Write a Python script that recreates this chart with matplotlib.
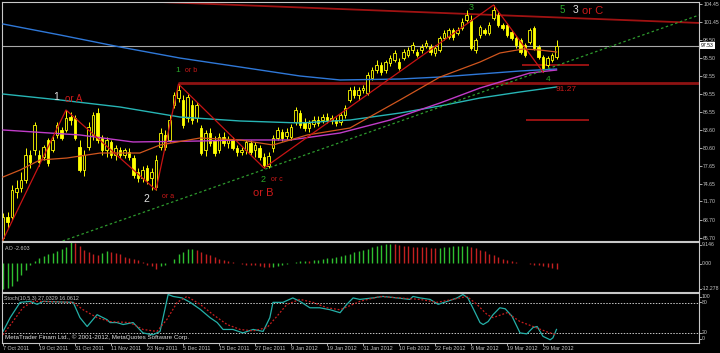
import matplotlib
matplotlib.use("Agg")
import matplotlib.pyplot as plt

# daily candles, 7 Oct 2011 .. 3 Apr 2012
opens = [65.65, 69.13, 69.13, 73.28, 73.94, 75.27, 79.41, 80.24, 79.41, 79.08,
         81.90, 80.24, 82.73, 83.56, 83.56, 85.71, 85.55, 80.74, 76.92, 80.74,
         82.73, 86.37, 82.23, 80.24, 81.57, 79.41, 80.24, 79.41, 79.91, 78.91,
         76.59, 75.60, 77.26, 75.60, 74.11, 80.74, 82.73, 81.90, 87.70, 88.86,
         88.53, 85.55, 87.70, 85.55, 83.89, 80.24, 83.06, 81.90, 80.24, 82.40,
         81.40, 81.90, 80.57, 79.91, 80.24, 81.40, 80.24, 80.57, 79.08, 77.59,
         80.57, 82.23, 83.22, 82.56, 82.40, 84.88, 86.37, 84.88, 83.89, 84.55,
         85.21, 85.21, 85.71, 85.21, 85.21, 84.88, 86.04, 88.53, 90.19, 89.36,
         90.19, 89.69, 92.18, 93.50, 94.33, 93.50, 94.66, 95.16, 94.83, 95.49,
         95.99, 96.82, 96.49, 96.82, 97.48, 97.32, 96.32, 96.82, 98.81, 98.98,
         100.14, 99.64, 100.47, 101.79, 101.79, 96.82, 99.31, 100.14, 99.64, 102.13,
         102.62, 100.96, 100.96, 99.80, 98.81, 98.48, 97.65, 98.15, 100.47, 97.32,
         95.66, 94.33, 95.16, 95.66]
highs = [69.79, 69.96, 74.44, 75.27, 76.59, 80.57, 80.24, 84.88, 80.24, 81.07,
         82.23, 82.56, 84.88, 84.05, 86.87, 86.54, 86.04, 81.90, 80.24, 84.88,
         86.54, 87.20, 82.73, 82.40, 81.90, 81.07, 80.74, 80.57, 80.57, 79.41,
         77.26, 77.59, 77.75, 77.26, 79.41, 83.89, 83.56, 86.04, 89.86, 91.18,
         89.36, 89.52, 88.53, 88.20, 84.38, 83.56, 83.89, 82.56, 83.06, 83.22,
         82.56, 82.40, 81.07, 80.74, 81.90, 81.90, 81.57, 81.07, 79.74, 79.91,
         82.73, 84.05, 83.72, 83.89, 84.55, 87.37, 86.87, 85.55, 85.21, 85.88,
         85.88, 86.21, 86.37, 86.04, 85.71, 86.54, 87.70, 90.69, 90.85, 90.69,
         91.02, 93.17, 94.00, 95.16, 94.83, 95.16, 95.99, 96.82, 95.49, 96.99,
         97.32, 98.15, 96.99, 97.81, 98.48, 97.81, 97.65, 99.14, 100.14, 100.47,
         100.47, 100.63, 102.13, 103.45, 102.62, 98.81, 100.96, 100.47, 101.46, 104.28,
         103.12, 101.30, 101.30, 100.14, 99.14, 98.81, 97.98, 100.47, 100.80, 97.65,
         95.99, 95.83, 96.32, 98.48]
lows = [65.32, 67.31, 68.63, 72.28, 73.28, 74.77, 77.26, 79.41, 77.59, 78.58,
        77.59, 79.91, 82.23, 81.90, 83.22, 84.38, 81.90, 76.59, 75.93, 80.24,
        81.90, 81.40, 79.41, 79.08, 78.91, 78.58, 78.91, 78.91, 78.58, 75.60,
        74.93, 74.93, 74.60, 73.61, 73.61, 80.24, 80.24, 81.57, 87.20, 88.20,
        83.89, 84.88, 84.55, 84.88, 79.41, 79.25, 80.90, 79.25, 79.74, 80.90,
        80.57, 80.24, 79.25, 79.41, 79.58, 79.41, 79.08, 78.58, 77.26, 77.26,
        79.91, 81.90, 81.73, 82.06, 81.90, 84.38, 83.89, 83.39, 83.22, 84.05,
        84.22, 84.72, 84.72, 84.55, 84.22, 84.38, 85.55, 88.20, 88.86, 88.53,
        89.69, 89.36, 91.85, 93.01, 92.67, 93.01, 94.17, 94.83, 93.50, 95.16,
        95.66, 96.32, 95.66, 96.32, 97.15, 95.99, 95.83, 96.49, 98.48, 98.64,
        98.48, 99.31, 100.14, 101.46, 96.82, 96.32, 98.81, 99.31, 99.31, 101.79,
        100.63, 100.14, 98.98, 98.48, 97.15, 96.16, 95.66, 97.81, 96.82, 95.33,
        93.17, 94.00, 94.83, 95.33]
closes = [69.13, 68.30, 73.61, 73.94, 75.27, 79.41, 78.25, 84.38, 78.25, 80.74,
          78.08, 81.90, 84.38, 82.23, 85.55, 85.21, 82.23, 76.92, 79.41, 84.05,
          86.04, 81.90, 80.24, 81.90, 79.41, 80.57, 79.41, 80.24, 79.08, 76.09,
          75.60, 76.92, 75.27, 76.59, 78.58, 83.06, 80.74, 85.21, 89.36, 90.19,
          84.38, 89.03, 85.21, 87.70, 79.74, 83.06, 81.40, 79.74, 82.40, 81.40,
          81.90, 80.57, 79.91, 80.24, 81.57, 79.91, 81.07, 79.08, 77.75, 79.25,
          82.23, 83.56, 82.23, 83.22, 84.05, 86.87, 84.38, 83.89, 84.72, 85.21,
          84.72, 85.71, 85.21, 85.55, 84.72, 86.04, 87.20, 90.19, 89.36, 90.19,
          90.52, 92.67, 93.50, 94.33, 93.17, 94.83, 95.49, 96.32, 93.84, 96.49,
          96.82, 97.65, 95.99, 97.32, 97.98, 96.49, 97.15, 98.81, 99.64, 100.14,
          98.98, 100.14, 101.46, 102.62, 97.15, 98.48, 100.63, 99.64, 100.96, 103.45,
          100.96, 100.47, 99.31, 98.81, 97.65, 96.49, 95.99, 100.14, 97.15, 95.66,
          93.84, 95.49, 95.99, 97.53]

# Awesome Oscillator, one value per bar
ao = [-10.8, -10.5, -9.6, -7.4, -5.1, -2.9, -0.8, 1.0, 2.3, 3.0,
      3.8, 4.5, 5.2, 6.0, 6.8, 9.1, 8.8, 7.5, 5.7, 4.8,
      3.8, 3.6, 4.5, 5.3, 4.8, 4.5, 3.8, 2.7, 2.5, 1.7,
      1.3, 0.6, -0.5, -1.3, -2.5, -1.3, -0.5, 0.2, 1.7, 3.8,
      4.8, 6.0, 6.2, 5.8, 5.0, 4.2, 3.4, 2.6, 2.0, 1.4,
      0.9, 0.4, 0.3, -0.2, -0.5, -0.7, -0.9, -1.2, -1.5, -1.7,
      -1.5, -1.1, -0.6, -0.3, 0.2, 0.6, 1.0, 1.1, 1.0, 1.3,
      1.6, 1.8, 2.1, 2.5, 2.9, 3.3, 3.6, 4.2, 4.8, 5.3,
      5.8, 6.3, 6.8, 7.3, 7.8, 8.1, 8.3, 8.2, 7.8, 7.6,
      7.4, 7.2, 7.0, 6.9, 6.8, 6.6, 6.4, 6.6, 6.9, 7.1,
      7.3, 7.4, 7.5, 7.6, 7.2, 6.6, 5.9, 5.1, 4.2, 3.6,
      2.7, 2.0, 1.6, 1.1, 0.7, 0.3, 0.1, -0.2, -0.6, -0.9,
      -1.3, -1.7, -2.2, -2.603]

# moving averages, (bar, price) points
ma_blue = [(0, 101.13), (12.7, 99.31), (26, 97.32), (39.3, 95.49), (52.7, 94.00),
           (66, 92.51), (74.9, 91.85), (88.2, 92.01), (97.1, 92.34), (106, 92.84),
           (114.9, 93.34), (123, 93.67)]
ma_cyan = [(0, 89.52), (12.7, 88.53), (26, 87.37), (39.3, 85.71), (52.7, 85.05),
           (66, 84.72), (77.1, 85.21), (88.2, 86.37), (97.1, 87.54), (106, 88.86),
           (114.9, 89.86), (123, 90.69)]
ma_purple = [(0, 83.56), (17.1, 82.73), (28.9, 81.57), (43.8, 81.73), (52.7, 81.90),
             (63.8, 81.90), (74.9, 83.06), (86, 85.21), (97.1, 88.03), (106, 90.52),
             (117.1, 93.01), (123, 93.50)]
ma_orange = [(0, 75.76), (3.8, 76.92), (8.2, 78.58), (14.2, 78.91), (21.6, 79.74),
             (30.4, 79.74), (34.9, 81.07), (43.8, 82.23), (52.7, 81.90), (60, 81.07),
             (67.6, 82.73), (77.1, 83.89), (88.2, 88.53), (97.1, 92.34), (106, 94.83),
             (110.4, 96.32), (115.6, 96.99), (119.3, 96.82), (123, 96.49)]

# zigzag pivots: bar index and whether it is a low or a high
zz_bars = [0, 14, 34, 39, 58, 109, 120]
zz_kind = ['L', 'H', 'L', 'H', 'L', 'H', 'L']

# stochastic (10,5,3): main and signal, (bar, value)
stoch_main = [(0, 23), (1.6, 51), (3.8, 82), (6, 84), (7.6, 78), (8.9, 84), (15.6, 82),
              (17.1, 51), (18.7, 33), (20.9, 57), (23.1, 47), (23.8, 41), (25.3, 41),
              (26.7, 37), (28.9, 41), (31.1, 20), (33.3, 16), (34.9, 23), (36.7, 98),
              (37.8, 94), (39.8, 91), (41.6, 82), (43.8, 68), (46, 51), (47.6, 41),
              (48.9, 27), (51.1, 27), (53.3, 20), (55.6, 27), (57.8, 23), (59.3, 51),
              (60, 82), (62.2, 82), (64.4, 91), (66, 84), (68.2, 71), (70.4, 71),
              (72.7, 67), (74.9, 61), (76.4, 78), (77.8, 91), (79.3, 88), (82.2, 91),
              (84.4, 94), (87.6, 91), (90.4, 88), (91.1, 94), (92.7, 91), (94.9, 88),
              (96.7, 78), (98.7, 84), (100.9, 91), (102.2, 98), (103.3, 91), (104.4, 71),
              (106, 41), (106.7, 37), (107.8, 43), (108.9, 57), (110.4, 71), (111.6, 69),
              (113.1, 54), (114.9, 20), (116.4, 18), (117.8, 31), (118.7, 33), (120, 13),
              (121.6, 6), (122.2, 10), (123, 27.03)]
stoch_signal = [(0, 16), (2.2, 43), (4.4, 71), (6.7, 84), (8.9, 84), (15.6, 82),
                (17.8, 67), (20.9, 51), (23.8, 43), (28.2, 41), (31.1, 27), (34.2, 23),
                (36.4, 47), (38.7, 82), (40.9, 94), (43.8, 78), (46.7, 57), (49.8, 37),
                (52.7, 27), (55.6, 24), (58.7, 31), (60.9, 54), (63.1, 78), (66, 88),
                (68.9, 82), (72, 71), (74.9, 67), (77.8, 78), (79.3, 84), (83.8, 94),
                (88.2, 91), (92.7, 88), (96.4, 82), (100, 88), (103.1, 94), (105.3, 78),
                (107.6, 57), (108.9, 51), (112, 61), (114.9, 43), (117.8, 33),
                (120.9, 22), (123, 16.06)]

price_ticks = [104.45, 101.45, 98.50, 95.50, 92.55, 89.55, 86.55, 83.60,
               80.60, 77.65, 74.65, 71.70, 68.70, 65.70]
last_price = 97.53
level_price = 91.27
date_labels = ['7 Oct 2011', '19 Oct 2011', '31 Oct 2011', '11 Nov 2011', '23 Nov 2011',
               '5 Dec 2011', '15 Dec 2011', '27 Dec 2011', '9 Jan 2012', '19 Jan 2012',
               '31 Jan 2012', '10 Feb 2012', '22 Feb 2012', '6 Mar 2012', '19 Mar 2012',
               '29 Mar 2012']

W, H = 720, 353
BAR_PX = 4.5
FG = '#c8c8c8'
YEL = '#ffff00'
RED = '#cc1a1a'
GRN = '#2aa82a'
SMALL = 3.7

plt.rcParams['font.family'] = 'Liberation Sans'
fig = plt.figure(figsize=(7.2, 3.53), dpi=100, facecolor='black')


def panel(x0, y0, x1, y1):
    a = fig.add_axes([x0 / W, 1 - y1 / H, (x1 - x0) / W, (y1 - y0) / H])
    a.set_facecolor('black')
    for s in a.spines.values():
        s.set_color(FG)
        s.set_linewidth(0.8)
    a.set_xlim(-1 / BAR_PX, (x1 - 3) / BAR_PX)
    a.set_xticks([])
    a.set_yticks([])
    return a


ax = panel(2, 2, 699, 241)
ax.set_ylim(65.15, 104.78)
ao_ax = panel(2, 242, 699, 292)
ao_ax.set_ylim(-12.278, 9.146)
st_ax = panel(2, 293, 699, 343)
st_ax.set_ylim(-0.5, 101)

# --- price panel
n = len(closes)
xs = list(range(n))
ax.vlines(xs, lows, highs, color=YEL, lw=0.7, zorder=2)
for i in xs:
    up = closes[i] >= opens[i]
    lo, hi = min(opens[i], closes[i]), max(opens[i], closes[i])
    ax.bar(i, max(hi - lo, 0.05), bottom=lo, width=0.62,
           facecolor='black' if up else YEL, edgecolor=YEL, linewidth=0.6, zorder=2)


def draw(a, pts, **kw):
    a.plot([p[0] for p in pts], [p[1] for p in pts], **kw)


draw(ax, ma_blue, color='#2f78d8', lw=1.0, zorder=3)
draw(ax, ma_cyan, color='#27b5b5', lw=1.0, zorder=3)
draw(ax, ma_purple, color='#c03cc8', lw=1.0, zorder=3)
draw(ax, ma_orange, color='#d0561e', lw=0.9, zorder=3)

zz_y = [lows[b] if k == 'L' else highs[b] for b, k in zip(zz_bars, zz_kind)]
ax.plot(zz_bars, zz_y, color='#c81414', lw=0.9, zorder=4)

ax.axhline(last_price, color='#a8a8a8', lw=0.8, zorder=1)
ax.hlines(level_price, 38.9, 160, color='#8e1212', lw=2.0, zorder=1)
ax.plot([34.9, 160], [104.78, 101.15], color='#a01212', lw=1.3, zorder=1)
ax.hlines([94.33, 85.21], [115.3, 116.2], [130.2, 130.2], color='#b01515', lw=1.2, zorder=1)
ax.axline((52.7, 75.60), (154.7, 102.62), color='#2e9a2e', lw=0.9,
          linestyle=(0, (2, 2)), zorder=3)


# wave labels
def lab(x, y, s, c, size=7):
    ax.text(x, y, s, color=c, fontsize=size, ha='center', va='center', zorder=5)


lab(11.8, 89.03, '1', '#e0e0e0', 7.5)
lab(15.8, 88.70, 'or A', RED, 7)
lab(38.9, 93.34, '1', GRN, 6)
lab(41.8, 93.34, 'or b', RED, 5)
lab(31.8, 72.12, '2', '#e0e0e0', 7.5)
lab(36.7, 72.45, 'or a', RED, 5)
lab(57.8, 75.43, '2', GRN, 6.5)
lab(60.9, 75.27, 'or c', RED, 5)
lab(57.8, 73.11, 'or B', RED, 8)
lab(104.0, 103.95, '3', GRN, 6.5)
lab(124.2, 103.45, '5', GRN, 7)
lab(127.3, 103.45, '3', '#e0e0e0', 7.5)
lab(131.1, 103.29, 'or C', RED, 8)
lab(121.1, 92.01, '4', GRN, 6)
lab(125.1, 90.19, '91.27', RED, 6)

# right price scale
ax.yaxis.tick_right()
ax.set_yticks(price_ticks)
ax.set_yticklabels(['%.2f' % v for v in price_ticks])
ax.tick_params(axis='y', colors=FG, labelsize=SMALL, length=2, width=0.6, pad=1)
ax.annotate('%.2f' % last_price, xy=(1.0, last_price),
            xycoords=('axes fraction', 'data'), xytext=(1.6, 0),
            textcoords='offset points', va='center', ha='left', fontsize=SMALL,
            color='black', bbox=dict(boxstyle='square,pad=0.15', fc='white', ec='none'))

# --- AO panel
ao_cols = ['#2fbf2f' if i == 0 or ao[i] >= ao[i - 1] else '#c42020' for i in range(n)]
ao_ax.vlines(xs, 0, ao, colors=ao_cols, lw=1.0)
ao_ax.text(0.004, 0.93, 'AO -2.603', transform=ao_ax.transAxes, color=FG, fontsize=3.9,
           va='top', ha='left')

# --- stochastic panel
st_ax.axhline(80, color=FG, lw=0.7, linestyle=(0, (1.5, 1.5)))
st_ax.axhline(20, color=FG, lw=0.7, linestyle=(0, (1.5, 1.5)))
draw(st_ax, stoch_main, color='#25b0a8', lw=0.9)
draw(st_ax, stoch_signal, color='#c81e1e', lw=0.9, linestyle=(0, (1.5, 1.5)))
st_ax.text(0.003, 0.94, 'Stoch(10,5,3) 27.0329 16.0612', transform=st_ax.transAxes,
           color=FG, fontsize=3.9, va='top', ha='left')
st_ax.text(0.004, 0.05, 'MetaTrader Finam Ltd., \u00a9 2001-2012, MetaQuotes Software Corp.',
           transform=st_ax.transAxes, color='#e0e0e0', fontsize=4.5, va='bottom', ha='left')

# right labels of the indicator windows
for y, s in [(245, '9.146'), (263.5, '0.00'), (288.5, '-12.278'),
             (297, '100'), (302, '80'), (333, '20'), (339, '0')]:
    fig.text(701.5 / W, 1 - y / H, s, color=FG, fontsize=SMALL, va='center', ha='left')
    fig.lines.append(plt.Line2D([699 / W, 701 / W], [1 - y / H, 1 - y / H],
                                transform=fig.transFigure, color=FG, lw=0.6))

# dates along the bottom
for k, s in enumerate(date_labels):
    px = 3 + k * 8 * BAR_PX
    fig.text(px / W, 1 - 348.5 / H, s, color=FG, fontsize=3.9, va='center', ha='left')
    fig.lines.append(plt.Line2D([px / W, px / W], [1 - 343 / H, 1 - 345 / H],
                                transform=fig.transFigure, color=FG, lw=0.6))

fig.savefig('out.png', dpi=100, facecolor='black')
